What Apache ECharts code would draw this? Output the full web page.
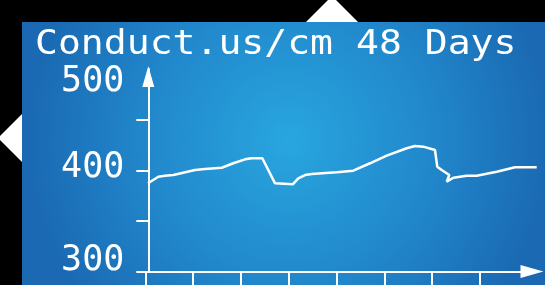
<!DOCTYPE html>
<html>
<head>
<meta charset="utf-8">
<script src="https://cdn.jsdelivr.net/npm/echarts@6/dist/echarts.min.js"></script>
<style>
html, body { margin: 0; padding: 0; background: #000; }
#main { width: 545px; height: 285px; }
</style>
</head>
<body>
<div id="main"></div>
<script>
var titleText = 'Conduct.us/cm 48 Days';
// day position (0..47) and conductivity
var days = [0, 1.25, 2.06, 3.06, 5.68, 6.89, 8.91, 10.31, 11.73, 12.54, 13.82, 15.36, 17.5, 18.17,
	18.98, 19.79, 22.82, 24.82, 26.84, 28.86, 31.28, 32.29, 33.29, 34.7, 34.98, 35.51, 36.43,
	36.12, 36.92, 38.54, 39.75, 42.16, 44.38, 47];
var conduct = [387.1, 393.6, 394.6, 395.3, 400.2, 401.2, 402.5, 406.9, 410.8, 411.8, 411.8, 387.1,
	386.1, 392.0, 395.3, 396.3, 398.0, 399.6, 406.9, 414.4, 421.7, 424.0, 423.3, 420.0, 403.5,
	400.2, 395.3, 388.7, 392.6, 394.6, 394.6, 398.6, 402.9, 402.9];
var yTicks = [300, 350, 400, 450];
var yLabels = [300, 400, 500];
var xTicks = [-0.33, 5.45, 11.23, 17.01, 22.79, 28.57, 34.35, 40.13];

var monoFont = '"DejaVu Sans Mono", "Liberation Mono", monospace';

function labelRich(pad) {
	return { fontFamily: monoFont, fontSize: 35, color: '#fff', padding: pad };
}

var myChart = echarts.init(document.getElementById('main'));

var lineData = [];
for (var i = 0; i < days.length; i++) {
	lineData.push([days[i], conduct[i]]);
}

var option = {
	backgroundColor: '#000',
	animation: false,
	graphic: [
		// white diamonds peeking out behind the panel
		{ type: 'polygon', z: -6, shape: { points: [[332, -4], [372, 36], [332, 76], [292, 36]] }, style: { fill: '#fff' } },
		{ type: 'polygon', z: -6, shape: { points: [[-2, 138], [38, 98], [78, 138], [38, 178]] }, style: { fill: '#fff' } },
		{
			type: 'rect', z: -5,
			shape: { x: 22, y: 22, width: 523, height: 263 },
			style: {
				fill: new echarts.graphic.RadialGradient(0.51, 0.45, 1.0, [
					{ offset: 0, color: '#28a6df' },
					{ offset: 0.55, color: '#2187cb' },
					{ offset: 1, color: '#1a69b2' }
				])
			}
		},
		{
			type: 'text', z: 5, x: 35, y: 28, scaleX: 1.12,
			style: { text: titleText, fill: '#fff', font: '34px ' + monoFont, verticalAlign: 'top' }
		}
	],
	grid: {
		left: 145.3,
		right: 8.3,
		top: 69,
		bottom: 13.5
	},
	xAxis: {
		type: 'value',
		min: -0.33,
		max: 47,
		axisLine: {
			show: true,
			symbol: ['none', 'triangle'],
			symbolSize: [13, 23],
			symbolOffset: [0, -4.7],
			lineStyle: { color: '#fff', width: 2 }
		},
		axisTick: {
			show: true,
			length: 14,
			customValues: xTicks,
			lineStyle: { color: '#fff', width: 2 }
		},
		axisLabel: { show: false },
		splitLine: { show: false }
	},
	yAxis: {
		type: 'value',
		min: 300,
		max: 500,
		offset: -3,
		axisLine: {
			show: true,
			symbol: ['none', 'triangle'],
			symbolSize: [12, 21],
			symbolOffset: [0, -7.5],
			lineStyle: { color: '#fff', width: 2 }
		},
		axisTick: {
			show: true,
			length: 12,
			customValues: yTicks,
			lineStyle: { color: '#fff', width: 2 }
		},
		axisLabel: {
			show: true,
			margin: 24,
			customValues: yLabels,
			formatter: function (v) {
				return '{v' + v + '|' + v + '}';
			},
			rich: {
				v500: labelRich([26, 0, 0, 0]),
				v400: labelRich([0, 0, 5, 0]),
				v300: labelRich([0, 0, 22, 0])
			}
		},
		splitLine: { show: false }
	},
	series: [
		{
			type: 'line',
			data: lineData,
			symbol: 'none',
			lineStyle: { color: '#fff', width: 2.5 }
		}
	]
};
myChart.setOption(option);
</script>
</body>
</html>
